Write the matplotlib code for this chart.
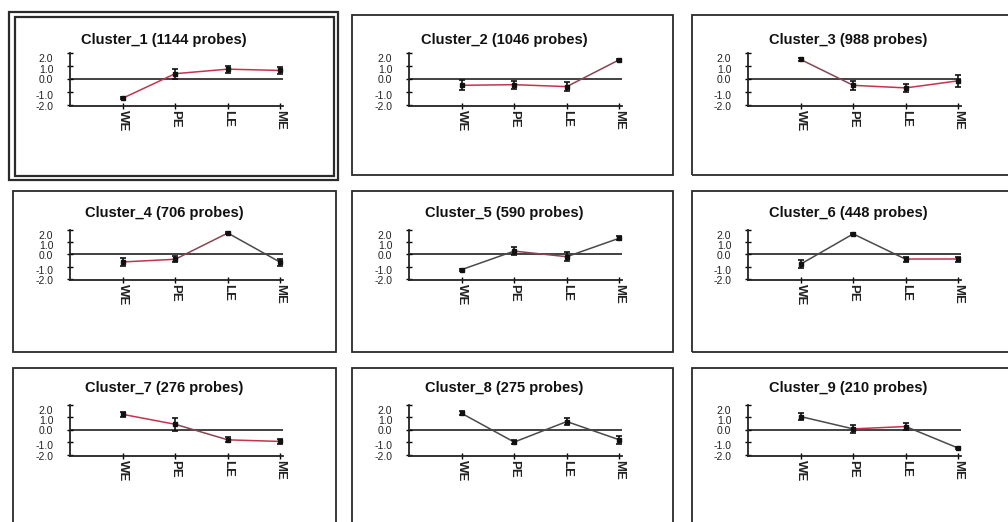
"""Cluster profile panels (3x3): mean expression per stage with error bars."""
import matplotlib
matplotlib.use("Agg")
import matplotlib.pyplot as plt
from matplotlib.patches import Rectangle

W, H = 1008, 522

# ------------------------------------------------------------------ data
STAGES = ["WE", "PE", "LE", "ME"]
CLUSTERS = ["Cluster_1", "Cluster_2", "Cluster_3", "Cluster_4", "Cluster_5",
            "Cluster_6", "Cluster_7", "Cluster_8", "Cluster_9"]
PROBES = [1144, 1046, 988, 706, 590, 448, 276, 275, 210]

c1_mean = [-1.5, 0.4, 0.75, 0.65]
c1_err = [0.08, 0.38, 0.27, 0.3]
c2_mean = [-0.5, -0.45, -0.6, 1.48]
c2_err = [0.4, 0.3, 0.35, 0.08]
c3_mean = [1.5, -0.5, -0.7, -0.15]
c3_err = [0.15, 0.35, 0.3, 0.45]
c4_mean = [-0.62, -0.4, 1.75, -0.65]
c4_err = [0.35, 0.25, 0.06, 0.3]
c5_mean = [-1.25, 0.27, -0.19, 1.33]
c5_err = [0.08, 0.3, 0.35, 0.15]
c6_mean = [-0.8, 1.68, -0.4, -0.4]
c6_err = [0.3, 0.06, 0.2, 0.2]
c7_mean = [1.25, 0.45, -0.8, -0.93]
c7_err = [0.2, 0.5, 0.2, 0.2]
c8_mean = [1.33, -0.98, 0.67, -0.8]
c8_err = [0.15, 0.15, 0.3, 0.3]
c9_mean = [1.07, 0.08, 0.27, -1.47]
c9_err = [0.3, 0.3, 0.3, 0.08]

MEANS = [c1_mean, c2_mean, c3_mean, c4_mean, c5_mean, c6_mean, c7_mean, c8_mean, c9_mean]
ERRS = [c1_err, c2_err, c3_err, c4_err, c5_err, c6_err, c7_err, c8_err, c9_err]

Y_TICKS = [-2.0, -1.0, 0.0, 1.0, 2.0]

# ------------------------------------------------------------------ style
RED, MIX, GRY = "#c4344e", "#8a4452", "#4a4a4a"
SEG_COLORS = [[RED, RED, RED], [RED, RED, MIX], [MIX, RED, RED],
              [RED, MIX, GRY], [GRY, MIX, GRY], [GRY, GRY, RED],
              [RED, MIX, RED], [GRY, GRY, GRY], [GRY, RED, GRY]]
BORDER = "#2a2a2a"
YLAB_POS = [-2.1, -1.25, -0.05, 0.8, 1.62]   # the squeezed label placement

# panel frames (px): left, top, right, bottom
COL_LR = [(13, 336), (352, 673), (692, 1014)]
ROW_TB = [(15, 175), (191, 352), (368, 532)]
AX_X0 = [70, 409, 748]
AX_TOP = [53, 230, 405]
AX_BOT = [106, 280, 456]
AX_W = 213
TITLE_X = [164, 504, 848]
TITLE_Y = [40, 213, 388]


def fx(px):
    return px / W


def fy(py):
    return 1 - py / H


def frame(fig, l, t, r, b, lw=1.3):
    fig.patches.append(Rectangle((fx(l), fy(b)), fx(r - l), (b - t) / H, fill=False,
                                 ec=BORDER, lw=lw, transform=fig.transFigure, figure=fig))


fig = plt.figure(figsize=(W / 100, H / 100), dpi=100)
fig.patch.set_facecolor("white")

for i, name in enumerate(CLUSTERS):
    r, c = divmod(i, 3)
    l, rr = COL_LR[c]
    t, b = ROW_TB[r]
    if i == 0:
        frame(fig, 9, 12, 338, 180, lw=1.6)
        frame(fig, 15, 17, 334, 176, lw=1.6)
    else:
        frame(fig, l, t, rr, b)

    ax = fig.add_axes([fx(AX_X0[c]), fy(AX_BOT[r]), fx(AX_W), (AX_BOT[r] - AX_TOP[r]) / H])
    ax.set_xlim(0, 4.05)
    ax.set_ylim(-2.0, 2.0)
    for s in ("top", "right"):
        ax.spines[s].set_visible(False)
    for s in ("left", "bottom"):
        ax.spines[s].set_color("#222222")
        ax.spines[s].set_linewidth(1.3)
    ax.axhline(0, color="#333333", lw=1.3, zorder=1)

    xs = list(range(1, len(STAGES) + 1))
    m, e = MEANS[i], ERRS[i]
    for k in range(len(xs) - 1):
        ax.plot(xs[k:k + 2], m[k:k + 2], color=SEG_COLORS[i][k], lw=1.1, zorder=2)
    ax.errorbar(xs, m, yerr=e, fmt="s", ms=2.5, color="#111111", ecolor="#111111",
                elinewidth=1.2, capsize=2.2, capthick=1.2, zorder=3)

    ax.set_xticks(xs)
    ax.set_xticklabels(STAGES, rotation=-90, fontsize=9.5, family="Liberation Sans",
                       fontweight="bold", color="#222222")
    ax.tick_params(axis="x", direction="inout", length=4, width=1, pad=1)

    ax.set_yticks(Y_TICKS)
    ax.set_yticklabels([])
    ax.tick_params(axis="y", which="major", direction="inout", length=5, width=1)
    ax.set_yticks(YLAB_POS, minor=True)
    ax.set_yticklabels([f"{v:.1f}" for v in Y_TICKS], minor=True, fontsize=7.5,
                       family="Liberation Sans", color="#222222")
    ax.tick_params(axis="y", which="minor", length=0, pad=12)
    ax.patch.set_alpha(0)

    fig.text(fx(TITLE_X[c]), fy(TITLE_Y[r]), f"{name} ({PROBES[i]} probes)",
             ha="center", va="center", fontsize=10.5, fontweight="bold",
             family="Liberation Sans", color="#111111")

fig.savefig("out.png", dpi=100, facecolor="white")
